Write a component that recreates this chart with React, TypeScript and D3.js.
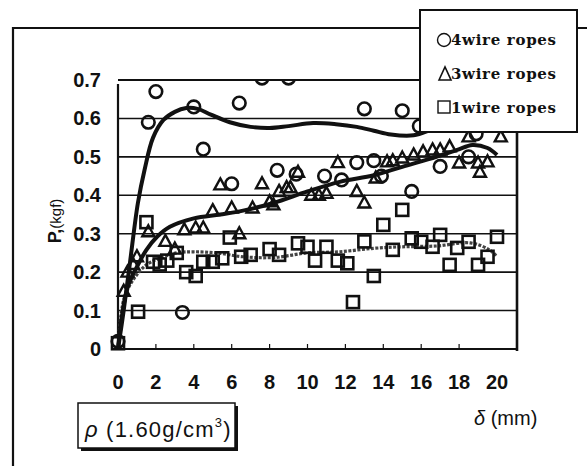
import React from "react";
import * as d3 from "d3";

// ---- data ----
const xTicks = [0, 2, 4, 6, 8, 10, 12, 14, 16, 18, 20];
const yTicks = [0, 0.1, 0.2, 0.3, 0.4, 0.5, 0.6, 0.7];
const yTickLabels = ["0", "0.1", "0.2", "0.3", "0.4", "0.5", "0.6", "0.7"];

const legendLabels = ["4wire ropes", " 3wire ropes", "1wire ropes"];

// 4 wire ropes (circles)
const wire4X = [0, 1.6, 2.0, 3.4, 4.0, 4.5, 6.0, 6.4, 7.6, 8.4, 9.0, 9.4, 10.9, 11.8, 12.6, 13.0, 13.5, 13.9, 15.0, 15.5, 15.9, 17.0, 18.5, 18.9];
const wire4Y = [0.02, 0.59, 0.67, 0.095, 0.63, 0.52, 0.43, 0.64, 0.705, 0.465, 0.705, 0.455, 0.45, 0.44, 0.485, 0.625, 0.49, 0.45, 0.62, 0.41, 0.58, 0.475, 0.5, 0.56];

// 3 wire ropes (triangles)
const wire3X = [0.3, 0.5, 0.8, 1.0, 1.6, 2.5, 3.0, 3.5, 4.1, 4.5, 5.0, 5.4, 6.0, 6.4, 7.1, 7.6, 8.0, 8.2, 8.5, 8.9, 9.1, 9.5, 10.2, 10.6, 11.0, 11.6, 12.6, 13.0, 13.6, 14.2, 14.5, 15.0, 15.6, 16.1, 16.6, 17.0, 17.5, 18.0, 18.5, 19.0, 19.1, 19.5, 20.2];
const wire3Y = [0.15, 0.2, 0.22, 0.24, 0.305, 0.28, 0.26, 0.31, 0.315, 0.315, 0.36, 0.427, 0.367, 0.3, 0.367, 0.43, 0.383, 0.375, 0.41, 0.42, 0.42, 0.46, 0.4, 0.4, 0.405, 0.485, 0.41, 0.38, 0.445, 0.487, 0.49, 0.497, 0.505, 0.513, 0.518, 0.518, 0.526, 0.484, 0.552, 0.484, 0.46, 0.487, 0.552];

// 1 wire ropes (squares)
const wire1X = [0, 1.06, 1.5, 1.85, 2.2, 2.6, 3.1, 3.6, 4.1, 4.5, 5.0, 5.5, 5.9, 6.5, 7.0, 8.0, 8.5, 9.5, 10.0, 10.4, 11.0, 11.6, 12.1, 12.4, 13.0, 13.5, 14.0, 14.5, 15.0, 15.5, 16.0, 16.6, 17.0, 17.5, 17.9, 18.5, 19.0, 19.5, 20.0];
const wire1Y = [0.015, 0.097, 0.33, 0.227, 0.22, 0.23, 0.25, 0.2, 0.19, 0.227, 0.227, 0.236, 0.29, 0.24, 0.245, 0.26, 0.245, 0.275, 0.266, 0.23, 0.266, 0.23, 0.223, 0.122, 0.28, 0.19, 0.323, 0.258, 0.362, 0.288, 0.279, 0.266, 0.297, 0.219, 0.263, 0.279, 0.219, 0.24, 0.292];

// fitted curves
const fit4X = [0, 0.3, 0.63, 1.05, 1.4, 1.85, 2.4, 3.0, 3.6, 4.2, 4.9, 5.9, 7.0, 8.0, 9.0, 10.3, 11.5, 12.6, 13.5, 14.4, 15.6, 16.5, 17.5, 18.5, 19.5];
const fit4Y = [0, 0.1, 0.224, 0.38, 0.466, 0.55, 0.596, 0.617, 0.627, 0.625, 0.61, 0.59, 0.578, 0.575, 0.58, 0.588, 0.585, 0.578, 0.568, 0.558, 0.556, 0.57, 0.59, 0.6, 0.6];

const fit3X = [0, 0.47, 1.0, 1.5, 2.06, 2.74, 4.0, 5.4, 6.6, 8.2, 10.0, 11.7, 13.5, 15.0, 16.8, 17.9, 18.7, 19.5, 20.0];
const fit3Y = [0, 0.154, 0.214, 0.258, 0.292, 0.318, 0.34, 0.35, 0.36, 0.38, 0.41, 0.435, 0.452, 0.474, 0.5, 0.518, 0.531, 0.523, 0.505];

const fit1X = [0, 0.3, 0.8, 1.5, 2.2, 3.1, 4.0, 5.2, 6.6, 8.2, 10.0, 11.7, 13.5, 15.0, 16.8, 18.6, 19.6, 20.0];
const fit1Y = [0, 0.128, 0.18, 0.219, 0.236, 0.25, 0.253, 0.25, 0.24, 0.238, 0.25, 0.253, 0.262, 0.266, 0.268, 0.276, 0.258, 0.24];

const zip = (xs: number[], ys: number[]) => xs.map((x, i) => [x, ys[i]] as [number, number]);

export default function App() {
  const x = d3.scaleLinear().domain([0, 20]).range([118, 497]);
  const y = d3.scaleLinear().domain([0, 0.7]).range([349, 80]);

  const line = d3
    .line<[number, number]>()
    .x((d) => x(d[0]))
    .y((d) => y(d[1]))
    .curve(d3.curveCatmullRom.alpha(0.5));

  const tri = (cx: number, cy: number) =>
    `M${cx},${cy - 6.5}L${cx + 6},${cy + 4.5}L${cx - 6},${cy + 4.5}Z`;

  const sans = "'Liberation Sans', Arial, sans-serif";
  const serif = "'DejaVu Serif', 'Liberation Serif', serif";

  return (
    <svg
      width={587}
      height={466}
      style={{ position: "absolute", left: 0, top: 0, background: "#fff" }}
    >
      <defs>
        <clipPath id="plotClip">
          <rect x={110} y={81} width={420} height={280} />
        </clipPath>
      </defs>
      <rect x={0} y={0} width={587} height={466} fill="#fff" />

      {/* outer frame */}
      <line x1={13} y1={28} x2={587} y2={28} stroke="#111" strokeWidth={2} />
      <line x1={13} y1={27} x2={13} y2={466} stroke="#111" strokeWidth={2.2} />

      {/* gridlines */}
      {yTicks.slice(1).map((t) => (
        <line key={t} x1={118} x2={517} y1={y(t)} y2={y(t)} stroke="#111" strokeWidth={t === 0.7 ? 2 : 1.6} />
      ))}
      {/* axes */}
      <line x1={118} x2={118} y1={84} y2={350} stroke="#111" strokeWidth={2.2} />
      <line x1={517} x2={517} y1={80} y2={351} stroke="#111" strokeWidth={2.6} />
      <line x1={117} x2={518} y1={y(0)} y2={y(0)} stroke="#111" strokeWidth={2.2} />
      {xTicks.slice(1, -1).map((t) => (
        <line key={t} x1={x(t)} x2={x(t)} y1={y(0)} y2={y(0) - 5} stroke="#111" strokeWidth={1.2} />
      ))}

      {/* tick labels */}
      {yTicks.map((t, i) => (
        <text key={t} x={101} y={y(t) + 7} textAnchor="end" fontFamily={sans} fontWeight="bold" fontSize={20} fill="#111">
          {yTickLabels[i]}
        </text>
      ))}
      {xTicks.map((t) => (
        <text key={t} x={x(t)} y={389} textAnchor="middle" fontFamily={sans} fontWeight="bold" fontSize={20} fill="#111">
          {t}
        </text>
      ))}

      {/* y axis title */}
      <text transform="translate(61,221) rotate(-90)" textAnchor="middle" fontFamily={sans} fill="#111">
        <tspan fontSize={18} fontWeight="bold">P,</tspan>
        <tspan fontSize={15}>(kgf)</tspan>
      </text>

      {/* fitted curves */}
      <g clipPath="url(#plotClip)">
        <path d={line(zip(fit1X, fit1Y)) || ""} fill="none" stroke="#444" strokeWidth={3.2} strokeDasharray="3,1.5" />
        <path d={line(zip(fit3X, fit3Y)) || ""} fill="none" stroke="#111" strokeWidth={4} />
        <path d={line(zip(fit4X, fit4Y)) || ""} fill="none" stroke="#111" strokeWidth={4} />

        {/* markers */}
        {zip(wire1X, wire1Y).map((d, i) => (
          <rect key={"s" + i} x={x(d[0]) - 6} y={y(d[1]) - 6} width={12} height={12} fill="none" stroke="#111" strokeWidth={2.6} />
        ))}
        {zip(wire3X, wire3Y).map((d, i) => (
          <path key={"t" + i} d={tri(x(d[0]), y(d[1]))} fill="none" stroke="#111" strokeWidth={2.4} strokeLinejoin="miter" />
        ))}
        {zip(wire4X, wire4Y).map((d, i) => (
          <circle key={"c" + i} cx={x(d[0])} cy={y(d[1])} r={6.3} fill="none" stroke="#111" strokeWidth={2.6} />
        ))}
      </g>

      {/* legend */}
      <rect x={420} y={10} width={157} height={122} fill="#fff" stroke="#111" strokeWidth={2} />
      <g fontFamily={serif} fontWeight="bold" fontSize={15} fill="#111">
        <circle cx={444} cy={40} r={6.5} fill="none" stroke="#111" strokeWidth={1.4} />
        <text x={451} y={45} textLength={105}>{legendLabels[0]}</text>
        <path d="M439,80L445,67L451,80Z" fill="none" stroke="#111" strokeWidth={1.6} />
        <text x={451} y={79} textLength={105}>{legendLabels[1]}</text>
        <rect x={438} y={101} width={12} height={12} fill="none" stroke="#111" strokeWidth={1.4} />
        <text x={451} y={113} textLength={105}>{legendLabels[2]}</text>
      </g>

      {/* density box */}
      <rect x={81} y={406} width={157} height={45} fill="#111" />
      <rect x={78} y={403} width={157} height={45} fill="#fff" stroke="#111" strokeWidth={1.5} />
      <text x={85} y={437} fontFamily={sans} fontSize={22} letterSpacing={1.2} fill="#111">
        <tspan fontStyle="italic">ρ</tspan>
        <tspan> (1.60g/cm</tspan>
        <tspan fontSize={13} dy={-10}>3</tspan>
        <tspan dy={10}>)</tspan>
      </text>

      {/* x axis title */}
      <text x={474} y={425} fontFamily={sans} fontSize={20} fill="#111">
        <tspan fontStyle="italic">δ</tspan>
        <tspan> (mm)</tspan>
      </text>
    </svg>
  );
}
